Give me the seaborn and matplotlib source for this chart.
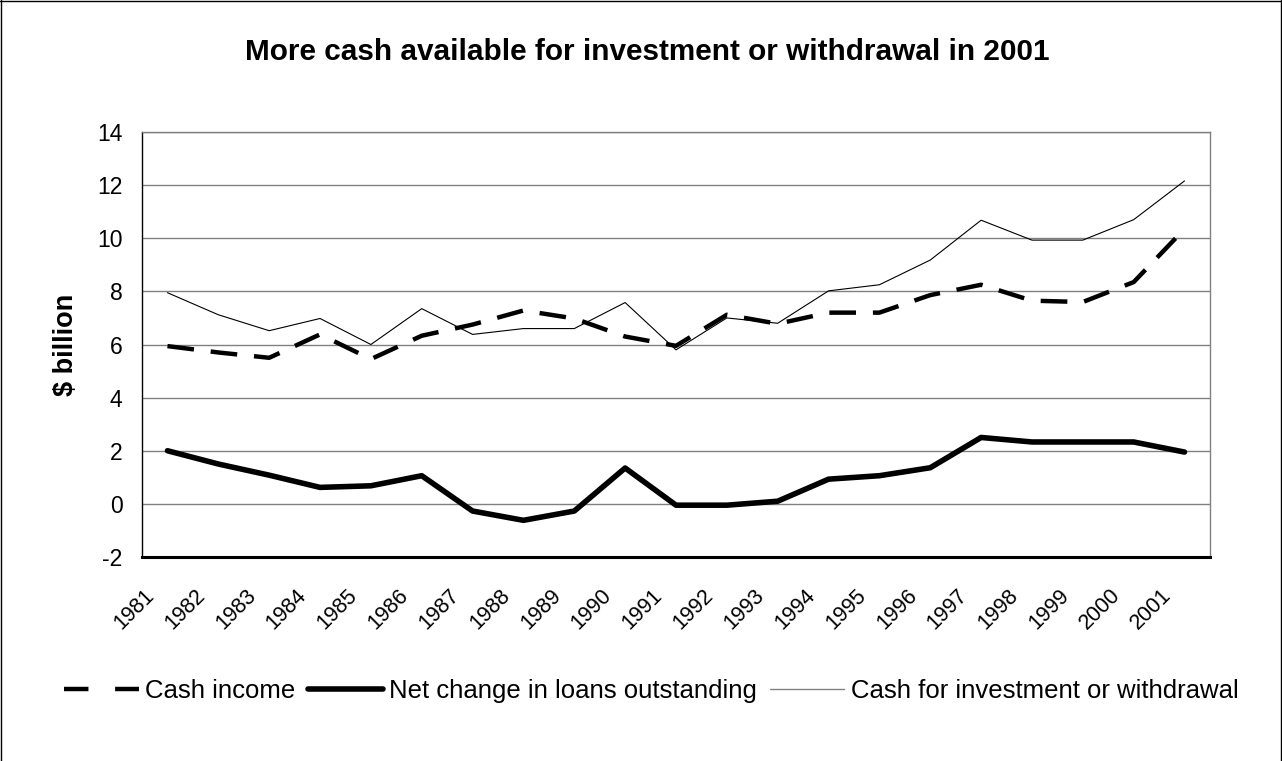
import numpy as np
import pandas as pd
import matplotlib
matplotlib.use("Agg")
import matplotlib.pyplot as plt
import matplotlib.transforms as mtransforms
import seaborn as sns
from matplotlib.lines import Line2D

# data ($ billion)
years = ["1981", "1982", "1983", "1984", "1985", "1986", "1987", "1988", "1989", "1990",
         "1991", "1992", "1993", "1994", "1995", "1996", "1997", "1998", "1999", "2000", "2001"]
cash_income = [5.94, 5.7, 5.5, 6.38, 5.45, 6.33, 6.75, 7.28, 6.98, 6.3,
               5.95, 7.12, 6.78, 7.2, 7.2, 7.86, 8.25, 7.65, 7.6, 8.35, 10.35]
net_loans = [2.0, 1.5, 1.08, 0.62, 0.68, 1.06, -0.27, -0.62, -0.27, 1.35,
             -0.05, -0.05, 0.1, 0.93, 1.06, 1.36, 2.5, 2.33, 2.33, 2.33, 1.95]
cash_invest = [7.95, 7.12, 6.52, 6.98, 6.0, 7.35, 6.38, 6.6, 6.6, 7.58,
               5.8, 7.0, 6.8, 8.02, 8.25, 9.18, 10.68, 9.93, 9.93, 10.7, 12.16]

series_names = ["Cash income", "Net change in loans outstanding",
                "Cash for investment or withdrawal"]

df = pd.DataFrame({"pos": np.arange(len(years)),
                   series_names[0]: cash_income,
                   series_names[1]: net_loans,
                   series_names[2]: cash_invest})

sns.set_style("white")
plt.rcParams["font.family"] = ["Liberation Sans", "DejaVu Sans"]
plt.rcParams["text.color"] = "black"
plt.rcParams["xtick.color"] = "black"
plt.rcParams["ytick.color"] = "black"
plt.rcParams["axes.labelcolor"] = "black"

fig = plt.figure(figsize=(12.82, 7.61), dpi=100)
ax = fig.add_axes([0.1108, 0.2681, 0.8330, 0.5584])

# gridlines
ax.set_axisbelow(True)
ax.yaxis.grid(True, color="#808080", lw=1)

dash = (0, (6, 3.8))
sns.lineplot(data=df, x="pos", y=series_names[0], ax=ax, color="black", lw=3.2,
             linestyle=dash, label=series_names[0])
sns.lineplot(data=df, x="pos", y=series_names[1], ax=ax, color="black", lw=4,
             label=series_names[1])
sns.lineplot(data=df, x="pos", y=series_names[2], ax=ax, color="black", lw=0.8,
             label=series_names[2])

ax.set_xlim(-0.5, len(years) - 0.5)
ax.set_ylim(-2, 14)
ax.set_yticks(range(-2, 15, 2))
ax.set_yticklabels([str(v) for v in range(-2, 15, 2)], fontsize=16.5)

# category labels: rotated, sitting a little left of each category centre
ax.set_xticks(np.arange(len(years)))
ax.set_xticklabels([])
shift = mtransforms.ScaledTranslation(-24 / 100, -28 / 100, fig.dpi_scale_trans)
lab_tr = mtransforms.blended_transform_factory(ax.transData, ax.transAxes) + shift
for i, yr in enumerate(years):
    ax.text(i, 0, yr, transform=lab_tr, rotation=45, ha="right", va="top",
            rotation_mode="anchor", fontsize=15.5)
ax.set_xticks(np.arange(len(years) + 1) - 0.5, minor=True)
ax.tick_params(axis="x", which="major", length=0)
ax.tick_params(axis="x", which="minor", length=6, width=1, color="black", direction="out")
ax.tick_params(axis="y", length=5, width=1, color="#808080", direction="out", pad=9)

ax.set_xlabel("")
ax.set_ylabel(r"\$ billion", fontsize=19.5, fontweight="bold")
ax.yaxis.set_label_coords(-0.059, 0.5)

for s in ["top", "right"]:
    ax.spines[s].set_visible(True)
    ax.spines[s].set_color("#808080")
    ax.spines[s].set_linewidth(1)
ax.spines["left"].set_color("black")
ax.spines["left"].set_linewidth(1)
ax.spines["bottom"].set_color("black")
ax.spines["bottom"].set_linewidth(2.2)

ax.get_legend().remove()
handles = [Line2D([], [], color="black", lw=3.2, linestyle=(0, (5.5, 6))),
           Line2D([], [], color="black", lw=4),
           Line2D([], [], color="#808080", lw=1)]
fig.legend(handles, series_names, loc="center", bbox_to_anchor=(0.508, 0.092), ncol=3,
           frameon=False, fontsize=18.5, handlelength=2.9, handletextpad=0.25,
           columnspacing=0.5)

fig.text(0.505, 0.932, "More cash available for investment or withdrawal in 2001",
         ha="center", va="center", fontsize=21.4, fontweight="bold")

# outer chart border
for xs, ys in [([0.0008, 0.0008], [0, 1]), ([0, 1], [0.9993, 0.9993]),
               ([0.9992, 0.9992], [0, 1])]:
    fig.add_artist(Line2D(xs, ys, transform=fig.transFigure, color="black", lw=1))

fig.savefig("out.png", dpi=100)
